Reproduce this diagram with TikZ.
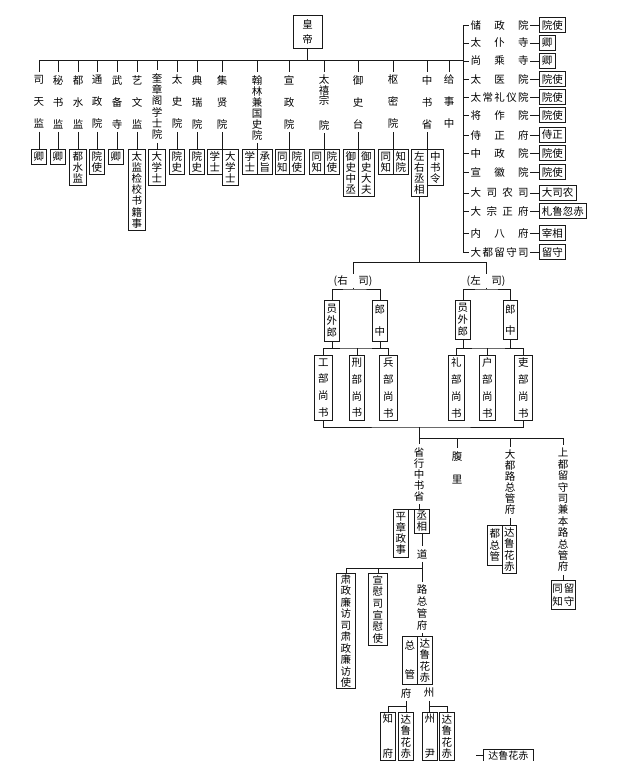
\documentclass[tikz,border=0pt]{standalone}
\usepackage{fontspec}
\setmainfont{Noto Sans CJK SC}
\newcommand{\fs}[1]{\fontsize{10.5}{#1}\selectfont}
\tikzset{
  ln/.style={line width=0.75pt, black!90},
  bx/.style={draw=black!90, line width=0.75pt, inner sep=0pt, align=center},
  lab/.style={inner xsep=0pt, inner ysep=3pt, align=center},
  rlab/.style={inner xsep=1.5pt, inner ysep=0pt, anchor=west},
  rbox/.style={draw=black!90, line width=0.75pt, inner xsep=2.5pt, inner ysep=2pt, anchor=west, minimum height=14.5pt, font=\fs{12}},
}
\newcommand{\BX}[7]{\node[bx, anchor=north west, minimum width=#4pt, minimum height=#5pt, font=\fs{#6}] (#1) at (#2,#3) {#7};}
\newcommand{\TL}[5]{\node[lab, font=\fs{#4}] (#1) at (#2,#3) {#5};}
\newcommand{\RT}[4]{%
  \node[rlab, font=\fs{12}] (r#1) at (469,#2) {\makebox[58pt][s]{#3}};
  \node[rbox] (rb#1) at (539,#2) {#4};
  \draw[ln] (r#1.west -| tr1) -- (r#1.west);
  \draw[ln] (r#1.east) -- (rb#1.west);}
\begin{document}
\begin{tikzpicture}[x=1pt,y=-1pt]
\useasboundingbox (0,0) rectangle (640,761);
\fill[white] (0,0) rectangle (640,761);
\clip (0,0) rectangle (640,761);

% emperor
\node[bx, minimum width=29pt, minimum height=33pt, font=\fs{15}] (hd) at (307.5,31.5) {皇\\帝};
\coordinate (hl) at (39,60);
\coordinate (hr) at (463,60);
\draw[ln] (hl) -- (hr);
\draw[ln] (hd.south) -- (hd.south |- hl);

% top labels
\TL{l1}{39}{102}{22}{司\\天\\监}
\TL{l2}{58}{102}{22}{秘\\书\\监}
\TL{l3}{78}{102}{22}{都\\水\\监}
\TL{l4}{97}{102}{22}{通\\政\\院}
\TL{l5}{117}{102}{22}{武\\备\\寺}
\TL{l6}{137}{102}{22}{艺\\文\\监}
\TL{l7}{157}{106.5}{11.4}{奎\\章\\阁\\学\\士\\院}
\TL{l8}{177}{102}{22}{太\\史\\院}
\TL{l9}{197}{102}{22}{典\\瑞\\院}
\TL{l10}{222}{102}{22}{集\\贤\\院}
\TL{l11}{257}{107.5}{11}{翰\\林\\兼\\国\\史\\院}
\TL{l12}{289}{102}{22}{宣\\政\\院}
\TL{l13}{324}{102.5}{10.5}{太\\禧\\宗\\[14pt]院}
\TL{l14}{358}{102}{22}{御\\史\\台}
\TL{l15}{393}{102}{22}{枢\\密\\院}
\TL{l16}{427}{102}{22}{中\\书\\省}
\TL{l17}{449}{102}{22}{给\\事\\中}
\foreach \n in {l1,l2,l3,l4,l5,l6,l7,l8,l9,l10,l11,l12,l13,l14,l15,l16,l17}
  \draw[ln] (\n.north |- hl) -- (\n.north);

% top boxes
\BX{b1}{31}{149}{15}{14.5}{12}{卿}
\BX{b2}{50}{149}{15}{14.5}{12}{卿}
\BX{b3}{69}{149}{17}{36}{11}{都\\水\\监}
\BX{b4}{89}{149}{15}{25}{11}{院\\使}
\BX{b5}{108}{149}{15}{14.5}{12}{卿}
\BX{b6}{128}{149}{17}{81}{11.1}{太\\监\\检\\校\\书\\籍\\事}
\BX{b7}{148}{149}{17}{36}{11}{大\\学\\士}
\BX{b8}{169}{149}{15}{25}{11}{院\\史}
\BX{b9}{189}{149}{15}{25}{11}{院\\史}
\BX{b10a}{207}{149}{15}{25}{11}{学\\士}
\BX{b10b}{222}{149}{16}{36}{11}{大\\学\\士}
\BX{b11a}{242}{149}{15}{25}{11}{学\\士}
\BX{b11b}{257}{149}{15}{25}{11}{承\\旨}
\BX{b12a}{275}{149}{14}{25}{11}{同\\知}
\BX{b12b}{289}{149}{15}{25}{11}{院\\使}
\BX{b13a}{309}{149}{15}{25}{11}{同\\知}
\BX{b13b}{324}{149}{15}{25}{11}{院\\使}
\BX{b14a}{343}{149}{15}{47}{11}{御\\史\\中\\丞}
\BX{b14b}{358}{149}{16}{47}{11}{御\\史\\大\\夫}
\BX{b15a}{378}{149}{15}{25}{11}{同\\知}
\BX{b15b}{393}{149}{15}{25}{11}{知\\院}
\BX{b16a}{411}{149}{16}{47}{11}{左\\右\\丞\\相}
\BX{b16b}{427}{149}{16}{36}{11}{中\\书\\令}
\foreach \l/\b in {l1/b1,l2/b2,l3/b3,l4/b4,l5/b5,l6/b6,l7/b7,l8/b8,l9/b9,l10/b10b,l11/b11b,l12/b12b,l13/b13b,l14/b14b,l15/b15b,l16/b16b}
  \draw[ln] (\l.south) -- (\l.south |- \b.north);

% right list
\coordinate (tr1) at (463,25);
\coordinate (tr2) at (463,252);
\draw[ln] (tr1) -- (tr2);
\RT{1}{25}{储\hfill 政\hfill 院}{院使}
\RT{2}{43}{太\hfill 仆\hfill 寺}{卿}
\RT{3}{61}{尚\hfill 乘\hfill 寺}{卿}
\RT{4}{79}{太\hfill 医\hfill 院}{院使}
\RT{5}{97}{太\hfill 常\hfill 礼\hfill 仪\hfill 院}{院使}
\RT{6}{115}{将\hfill 作\hfill 院}{院使}
\RT{7}{135}{侍\hfill 正\hfill 府}{侍正}
\RT{8}{153}{中\hfill 政\hfill 院}{院使}
\RT{9}{172}{宣\hfill 徽\hfill 院}{院使}
\RT{10}{193}{大\hfill 司\hfill 农\hfill 司}{大司农}
\RT{11}{211}{大\hfill 宗\hfill 正\hfill 府}{札鲁忽赤}
\RT{12}{233}{内\hfill 八\hfill 府}{宰相}
\RT{13}{252}{大\hfill 都\hfill 留\hfill 守\hfill 司}{留守}

% secretariat branches
\coordinate (mL) at (353,262);
\coordinate (mR) at (486,262);
\draw[ln] (b16a.south) -- (b16a.south |- mL);
\draw[ln] (mL) -- (mR);
\node[inner sep=1pt, font=\fs{12}] (rs) at (353,281) {(右\quad 司)};
\node[inner sep=1pt, font=\fs{12}] (ls) at (486,281) {(左\quad 司)};
\draw[ln] (mL) -- (rs.north);
\draw[ln] (mR) -- (ls.north);

\coordinate (rh) at (353,289);
\coordinate (lh) at (486,289);
\BX{ry}{324}{300}{15}{41}{12}{员\\外\\郎}
\BX{rz}{372}{300}{15}{41}{22}{郎\\中}
\BX{ly}{455}{300}{15}{39}{12}{员\\外\\郎}
\BX{lz}{503}{300}{14}{39}{21}{郎\\中}
\draw[ln] (rs.south) -- (rh);
\draw[ln] (ls.south) -- (lh);
\draw[ln] (ry.north) |- (rh) -| (rz.north);
\draw[ln] (ly.north) |- (lh) -| (lz.north);

\coordinate (rk) at (356,348);
\coordinate (lk) at (487,348);
\BX{gb}{314}{355}{18}{65}{16.8}{工\\部\\尚\\书}
\BX{xb}{349}{355}{15}{65}{16.8}{刑\\部\\尚\\书}
\BX{bb}{379}{355}{18}{65}{16.8}{兵\\部\\尚\\书}
\BX{lb}{448}{355}{16}{65}{16.8}{礼\\部\\尚\\书}
\BX{hb}{479}{355}{16}{65}{16.8}{户\\部\\尚\\书}
\BX{ib}{514}{355}{18}{65}{16.8}{吏\\部\\尚\\书}
\draw[ln] (ry.south) -- (ry.south |- rk);
\draw[ln] (rz.south) -- (rz.south |- rk);
\draw[ln] (gb.north) |- (rk) -| (bb.north);
\draw[ln] (xb.north) -- (xb.north |- rk);
\draw[ln] (ly.south) -- (ly.south |- lk);
\draw[ln] (lz.south) -- (lz.south |- lk);
\draw[ln] (lb.north) |- (lk) -| (ib.north);
\draw[ln] (hb.north) -- (hb.north |- lk);

\coordinate (bk) at (419,427);
\draw[ln] (gb.south) |- (bk) -| (ib.south);

% provinces
\coordinate (ph) at (419,438);
\TL{p1}{419}{474}{11}{省\\行\\中\\书\\省}
\TL{p2}{457}{467.5}{23}{腹\\里}
\TL{p3}{510}{482.5}{11}{大\\都\\路\\总\\管\\府}
\TL{p4}{563}{510}{11.4}{上\\都\\留\\守\\司\\兼\\本\\路\\总\\管\\府}
\draw[ln] (bk) -- (p1.north);
\draw[ln] (ph) -- (ph -| p4.north);
\draw[ln] (p2.north |- ph) -- (p2.north);
\draw[ln] (p3.north |- ph) -- (p3.north);
\draw[ln] (p4.north |- ph) -- (p4.north);

\BX{pz}{393}{509}{15}{48}{11.2}{平\\章\\政\\事}
\BX{pc}{414}{509}{15}{24}{11}{丞\\相}
\draw[ln] (p1.south) -- (p1.south |- pc.north);
\draw[ln] (pz.north east) -- (pc.north west);

\BX{dz}{487}{525}{15}{40}{11.5}{都\\总\\管}
\BX{dl}{502}{525}{14}{48}{11.3}{达\\鲁\\花\\赤}
\draw[ln] (p3.south) -- (p3.south |- dl.north);

\BX{tz}{551}{580}{24}{29}{13}{同\hspace{1pt}留\\知\hspace{1pt}守}
\draw[ln] (p4.south) -- (p4.south |- tz.north);

\TL{dao}{422}{554}{12}{道}
\draw[ln] (dao.north -| dao) -- (dao.north |- pc.south);
\coordinate (dh) at (422,568);
\BX{sz}{336}{573}{19}{115}{11.5}{肃\\政\\廉\\访\\司\\肃\\政\\廉\\访\\使}
\BX{xw}{368}{573}{19}{72}{11.7}{宣\\慰\\司\\宣\\慰\\使}
\TL{lz}{422}{607.5}{11.7}{路\\总\\管\\府}
\draw[ln] (dao.south) -- (lz.north);
\draw[ln] (sz.north) |- (dh);
\draw[ln] (xw.north) -- (xw.north |- dh);

\BX{zg}{402}{636}{15}{48}{29}{总\\管}
\BX{da1}{417}{636}{15}{48}{11.5}{达\\鲁\\花\\赤}
\draw[ln] (lz.south) -- (lz.south |- da1.north);

\TL{fu}{406}{693}{12}{府}
\TL{zh}{429}{693}{12}{州}
\coordinate (fh) at (406,706);
\coordinate (zhh) at (429,706);
\BX{zf}{380}{712}{15}{48}{35}{知\\府}
\BX{da2}{398}{712}{15}{48}{11.3}{达\\鲁\\花\\赤}
\BX{zy}{422}{712}{15}{48}{35}{州\\尹}
\BX{da3}{439}{712}{15}{48}{11.3}{达\\鲁\\花\\赤}
\draw[ln] (fu.south) -- (fu.south |- da2.north);
\draw[ln] (zf.north) |- (fh);
\draw[ln] (zh.south) -- (zh.south |- zy.north);
\draw[ln] (zhh) -| (da3.north);

\node[bx, anchor=north west, minimum width=50pt, minimum height=14pt, font=\fontsize{10}{12}\selectfont] (bot) at (483,748.5) {达鲁花赤};
\coordinate (bt) at (476,755);
\draw[ln] (bt) -- (bt -| bot.west);
\end{tikzpicture}
\end{document}
